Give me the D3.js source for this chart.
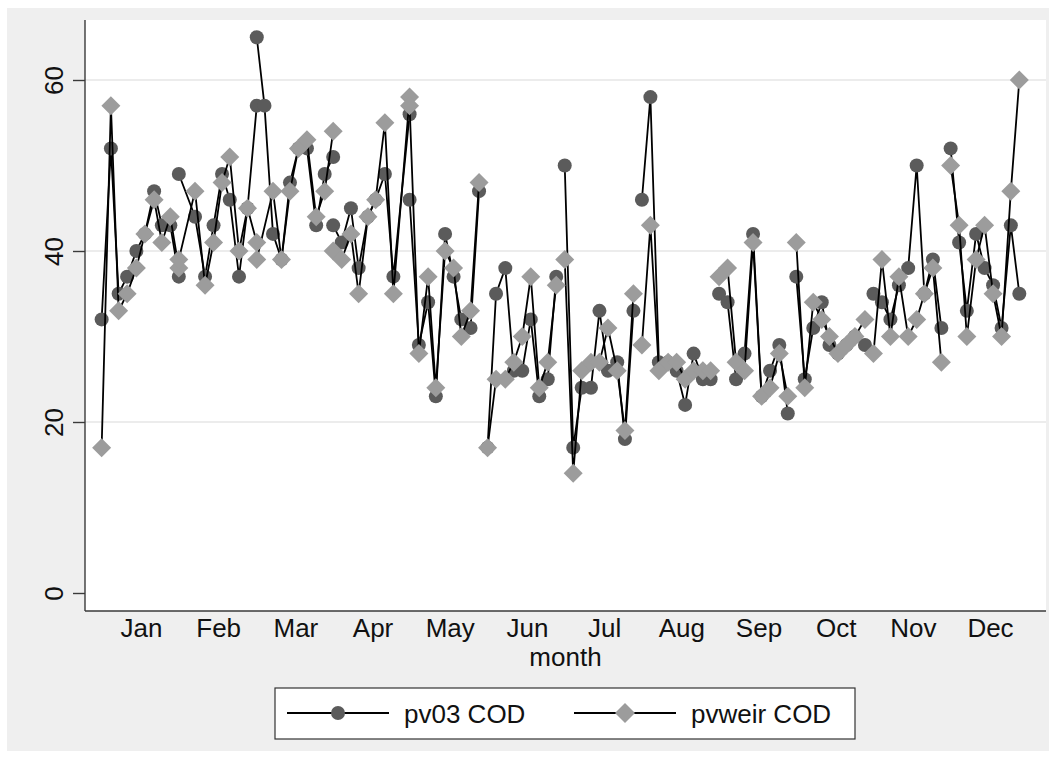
<!DOCTYPE html>
<html>
<head>
<meta charset="utf-8">
<script src="https://cdn.jsdelivr.net/npm/d3@7"></script>
<style>
  html, body { margin: 0; padding: 0; background: #ffffff; }
  svg { display: block; font-family: "Liberation Sans", Arial, Helvetica, sans-serif; }
</style>
</head>
<body>
<svg id="chart" width="1055" height="758"></svg>
<script>
// Sampling position along the month axis (month number, mid-month at the integer)
const obsX = [
  0.49, 0.61, 0.71, 0.82, 0.94, 1.05, 1.17, 1.27, 1.38, 1.49,
  1.49, 1.70, 1.83, 1.94, 2.05, 2.15, 2.27, 2.38, 2.50,
  2.50, 2.60, 2.71, 2.82, 2.93, 3.04, 3.15, 3.27, 3.38, 3.49,
  3.49, 3.60, 3.72, 3.82, 3.94, 4.04, 4.16, 4.27, 4.48,
  4.48, 4.60, 4.72, 4.82, 4.94, 5.05, 5.15, 5.27, 5.38,
  5.49, 5.60, 5.72, 5.83, 5.94, 6.05, 6.16, 6.27, 6.38,
  6.49, 6.60, 6.71, 6.83, 6.94, 7.05, 7.17, 7.27, 7.38,
  7.49, 7.60, 7.71, 7.83, 7.94, 8.05, 8.16, 8.28, 8.38,
  8.49, 8.60, 8.71, 8.82, 8.93, 9.04, 9.15, 9.27, 9.38,
  9.49, 9.60, 9.71, 9.82, 9.92, 10.03, 10.14, 10.25, 10.38,
  10.49, 10.60, 10.71, 10.82, 10.94, 11.05, 11.15, 11.26, 11.37,
  11.49, 11.60, 11.70, 11.82, 11.93, 12.04, 12.15, 12.27, 12.38
];

// Calendar month of each sample (lines are drawn month by month)
const obsMonth = [
  1, 1, 1, 1, 1, 1, 1, 1, 1, 1,
  2, 2, 2, 2, 2, 2, 2, 2, 2,
  3, 3, 3, 3, 3, 3, 3, 3, 3, 3,
  4, 4, 4, 4, 4, 4, 4, 4, 4,
  5, 5, 5, 5, 5, 5, 5, 5, 5,
  6, 6, 6, 6, 6, 6, 6, 6, 6,
  7, 7, 7, 7, 7, 7, 7, 7, 7,
  8, 8, 8, 8, 8, 8, 8, 8, 8,
  9, 9, 9, 9, 9, 9, 9, 9, 9,
  10, 10, 10, 10, 10, 10, 10, 10, 10,
  11, 11, 11, 11, 11, 11, 11, 11, 11,
  12, 12, 12, 12, 12, 12, 12, 12, 12
];

// pv03 COD
const pv03 = [
  32, 52, 35, 37, 40, 42, 47, 43, 43, 37,
  49, 44, 37, 43, 49, 46, 37, 45, 57,
  65, 57, 42, 39, 48, 52, 52, 43, 49, 51,
  43, 41, 45, 38, 44, 46, 49, 37, 56,
  46, 29, 34, 23, 42, 37, 32, 31, 47,
  17, 35, 38, 26, 26, 32, 23, 25, 37,
  50, 17, 24, 24, 33, 26, 27, 18, 33,
  46, 58, 27, 27, 26, 22, 28, 25, 25,
  35, 34, 25, 28, 42, 23, 26, 29, 21,
  37, 25, 31, 34, 29, 28, 29, 30, 29,
  35, 34, 32, 36, 38, 50, 35, 39, 31,
  52, 41, 33, 42, 38, 36, 31, 43, 35
];

// pvweir COD
const pvweir = [
  17, 57, 33, 35, 38, 42, 46, 41, 44, 38,
  39, 47, 36, 41, 48, 51, 40, 45, 41,
  39, null, 47, 39, 47, 52, 53, 44, 47, 54,
  40, 39, 42, 35, 44, 46, 55, 35, 58,
  57, 28, 37, 24, 40, 38, 30, 33, 48,
  17, 25, 25, 27, 30, 37, 24, 27, 36,
  39, 14, 26, 27, 27, 31, 26, 19, 35,
  29, 43, 26, 27, 27, 25, 26, 26, 26,
  37, 38, 27, 26, 41, 23, 24, 28, 23,
  41, 24, 34, 32, 30, 28, 29, 30, 32,
  28, 39, 30, 37, 30, 32, 35, 38, 27,
  50, 43, 30, 39, 43, 35, 30, 47, 60
];

const monthLabels = ["Jan", "Feb", "Mar", "Apr", "May", "Jun",
                     "Jul", "Aug", "Sep", "Oct", "Nov", "Dec"];
const yTicks = [0, 20, 40, 60];
const seriesNames = ["pv03 COD", "pvweir COD"];

const svg = d3.select("#chart");
const W = 1055, H = 758;

// Outer graph region and plot region
const outer = { left: 7, top: 8, right: 1049, bottom: 751 };
const plot = { left: 85, top: 20, right: 1046, bottom: 611 };

svg.append("rect")
  .attr("x", outer.left).attr("y", outer.top)
  .attr("width", outer.right - outer.left).attr("height", outer.bottom - outer.top)
  .attr("fill", "#efefef");

svg.append("rect")
  .attr("x", plot.left).attr("y", plot.top)
  .attr("width", plot.right - plot.left).attr("height", plot.bottom - plot.top)
  .attr("fill", "#ffffff");

const x = d3.scaleLinear().domain([1, 12]).range([141, 990]);
const y = d3.scaleLinear().domain([0, 60]).range([593, 80]);

const FONT = 26;

// Horizontal grid lines
svg.append("g")
  .selectAll("line")
  .data(yTicks.filter(v => v !== 0))
  .join("line")
  .attr("x1", plot.left).attr("x2", plot.right)
  .attr("y1", d => y(d)).attr("y2", d => y(d))
  .attr("stroke", "#e6e6e6").attr("stroke-width", 1.6);

// Y axis: ticks and vertical labels
const yAxis = d3.axisLeft(y).tickValues(yTicks).tickSize(12).tickPadding(0);
const yg = svg.append("g").attr("transform", `translate(${plot.left},0)`).call(yAxis);
yg.select(".domain").remove();
yg.selectAll(".tick line").attr("stroke", "#3a3a3a").attr("stroke-width", 1.4);
yg.selectAll(".tick text")
  .attr("font-size", FONT)
  .attr("font-family", "Liberation Sans, Arial, sans-serif")
  .attr("fill", "#111")
  .attr("text-anchor", "middle")
  .attr("dy", null)
  .attr("x", 0)
  .attr("y", -22)
  .attr("transform", "rotate(-90)");

// Axis lines
svg.append("line")
  .attr("x1", plot.left).attr("x2", plot.left)
  .attr("y1", plot.top).attr("y2", plot.bottom)
  .attr("stroke", "#3a3a3a").attr("stroke-width", 1.4);
svg.append("line")
  .attr("x1", plot.left).attr("x2", plot.right)
  .attr("y1", plot.bottom).attr("y2", plot.bottom)
  .attr("stroke", "#3a3a3a").attr("stroke-width", 1.4);

// X axis: month labels without tick marks
const xAxis = d3.axisBottom(x)
  .tickValues(d3.range(1, 13))
  .tickFormat(d => monthLabels[d - 1])
  .tickSize(0);
const xg = svg.append("g").attr("transform", `translate(0,${plot.bottom})`).call(xAxis);
xg.select(".domain").remove();
xg.selectAll(".tick text")
  .attr("font-size", FONT)
  .attr("font-family", "Liberation Sans, Arial, sans-serif")
  .attr("fill", "#111")
  .attr("dy", null)
  .attr("y", 26);

svg.append("text")
  .attr("x", (x(6) + x(7)) / 2).attr("y", 666)
  .attr("text-anchor", "middle")
  .attr("font-size", FONT)
  .attr("fill", "#111")
  .text("month");

// Observations
const obs = obsX.map((v, i) => ({ x: v, month: obsMonth[i], a: pv03[i], b: pvweir[i] }));
const byMonth = d3.groups(obs, d => d.month);

function drawSeries(key, markerFn) {
  const line = d3.line().x(d => x(d.x)).y(d => y(d[key]));
  const g = svg.append("g");
  g.selectAll("path.seg")
    .data(byMonth.map(([, pts]) => pts.filter(p => p[key] != null)))
    .join("path")
    .attr("class", "seg")
    .attr("d", line)
    .attr("fill", "none")
    .attr("stroke", "#000")
    .attr("stroke-width", 1.8)
    .attr("stroke-linejoin", "round");
  markerFn(g.append("g"), obs.filter(p => p[key] != null), key);
}

const CIRCLE_R = 7, CIRCLE_FILL = "#5b5b5b";
const DIAMOND_R = 9.5, DIAMOND_FILL = "#9c9c9c";
const diamondPath = r => `M0,${-r}L${r},0L0,${r}L${-r},0Z`;

drawSeries("a", (g, pts, key) => {
  g.selectAll("circle").data(pts).join("circle")
    .attr("cx", d => x(d.x)).attr("cy", d => y(d[key]))
    .attr("r", CIRCLE_R).attr("fill", CIRCLE_FILL);
});
drawSeries("b", (g, pts, key) => {
  g.selectAll("path").data(pts).join("path")
    .attr("d", diamondPath(DIAMOND_R))
    .attr("transform", d => `translate(${x(d.x)},${y(d[key])})`)
    .attr("fill", DIAMOND_FILL);
});

// Legend
const legend = svg.append("g");
legend.append("rect")
  .attr("x", 275).attr("y", 688).attr("width", 580).attr("height", 51)
  .attr("fill", "#ffffff").attr("stroke", "#333").attr("stroke-width", 1.2);

const legendItems = [
  { name: seriesNames[0], x0: 287, kind: "circle" },
  { name: seriesNames[1], x0: 574, kind: "diamond" }
];
const ly = 713;
legendItems.forEach(it => {
  legend.append("line")
    .attr("x1", it.x0).attr("x2", it.x0 + 102)
    .attr("y1", ly).attr("y2", ly)
    .attr("stroke", "#000").attr("stroke-width", 1.8);
  if (it.kind === "circle") {
    legend.append("circle").attr("cx", it.x0 + 51).attr("cy", ly)
      .attr("r", CIRCLE_R).attr("fill", CIRCLE_FILL);
  } else {
    legend.append("path").attr("d", diamondPath(DIAMOND_R + 0.5))
      .attr("transform", `translate(${it.x0 + 51},${ly})`)
      .attr("fill", DIAMOND_FILL);
  }
  legend.append("text")
    .attr("x", it.x0 + 117).attr("y", ly + 9.5)
    .attr("font-size", FONT).attr("fill", "#111")
    .text(it.name);
});
</script>
</body>
</html>
